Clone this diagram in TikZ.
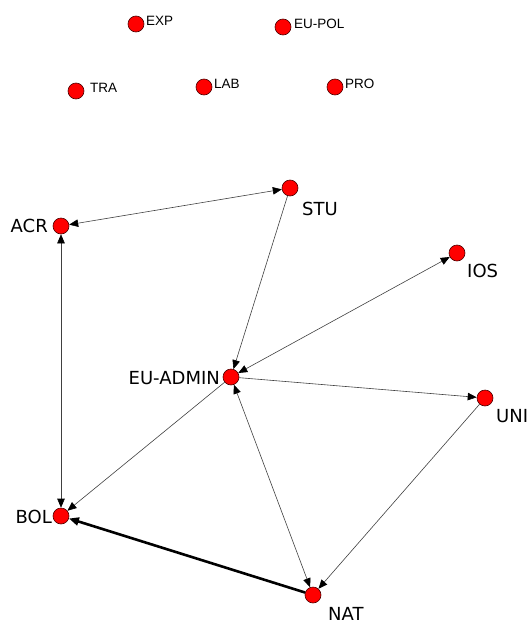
\documentclass[tikz,border=0pt]{standalone}
\usepackage{fontspec}
\setmainfont{Liberation Sans}
\newfontfamily\labfont{DejaVu Sans}
\usetikzlibrary{arrows.meta}
\begin{document}
\begin{tikzpicture}[x=1pt,y=-1pt,
  vert/.style={circle,fill=red,draw=black!70!red,line width=0.6pt,minimum size=16pt,inner sep=0pt},
  toplab/.style={anchor=west,inner sep=0pt,font=\fontsize{13.5}{14}\selectfont},
  biglab/.style={inner sep=0pt,font=\labfont\fontsize{18}{19}\selectfont},
  edge/.style={draw=black!75,line width=0.6pt},
  tip/.style={-{Triangle[length=9pt,width=7.5pt,color=black]}},
  btip/.style={{Triangle[length=9pt,width=7.5pt,color=black]}-{Triangle[length=9pt,width=7.5pt,color=black]}}]
\useasboundingbox (0,0) rectangle (529,624);
% isolated vertices
\node[vert] (exp) at (136,24) {};
\node[toplab] (expl) at (146,21) {EXP};
\node[vert] (eupol) at (283,27) {};
\node[toplab] (eupoll) at (294,24) {EU-POL};
\node[vert] (tra) at (76,91) {};
\node[toplab] (tral) at (90,88) {TRA};
\node[vert] (lab) at (204,87) {};
\node[toplab] (labl) at (214,84) {LAB};
\node[vert] (pro) at (335,87) {};
\node[toplab] (prol) at (345,84) {PRO};
% connected vertices
\node[vert] (stu) at (290,188) {};
\node[biglab,anchor=west] (stul) at (302,209) {STU};
\node[vert] (acr) at (61,226) {};
\node[biglab,anchor=east] (acrl) at (48,226) {ACR};
\node[vert] (ios) at (457,253) {};
\node[biglab,anchor=west] (iosl) at (467,271) {IOS};
\node[vert] (eua) at (231,377) {};
\node[biglab,anchor=east] (eual) at (220,378) {EU-ADMIN};
\node[vert] (uni) at (485,398) {};
\node[biglab,anchor=west] (unil) at (496,416) {UNI};
\node[vert] (bol) at (61,516) {};
\node[biglab,anchor=east] (boll) at (52,517) {BOL};
\node[vert] (nat) at (313,595) {};
\node[biglab,anchor=west] (natl) at (328,614) {NAT};
% edges
\draw[edge,btip] (acr) -- (stu);
\draw[edge,btip] (acr) -- (bol);
\draw[edge,tip] (stu) -- (eua);
\draw[edge,btip] (eua) -- (ios);
\draw[edge,tip] (eua) -- (uni);
\draw[edge,tip] (eua) -- (bol);
\draw[edge,btip] (eua) -- (nat);
\draw[edge,tip] (uni) -- (nat);
\draw[draw=black,line width=2.6pt,-{Triangle[length=10pt,width=8pt]}] (nat) -- (bol);
\end{tikzpicture}
\end{document}
